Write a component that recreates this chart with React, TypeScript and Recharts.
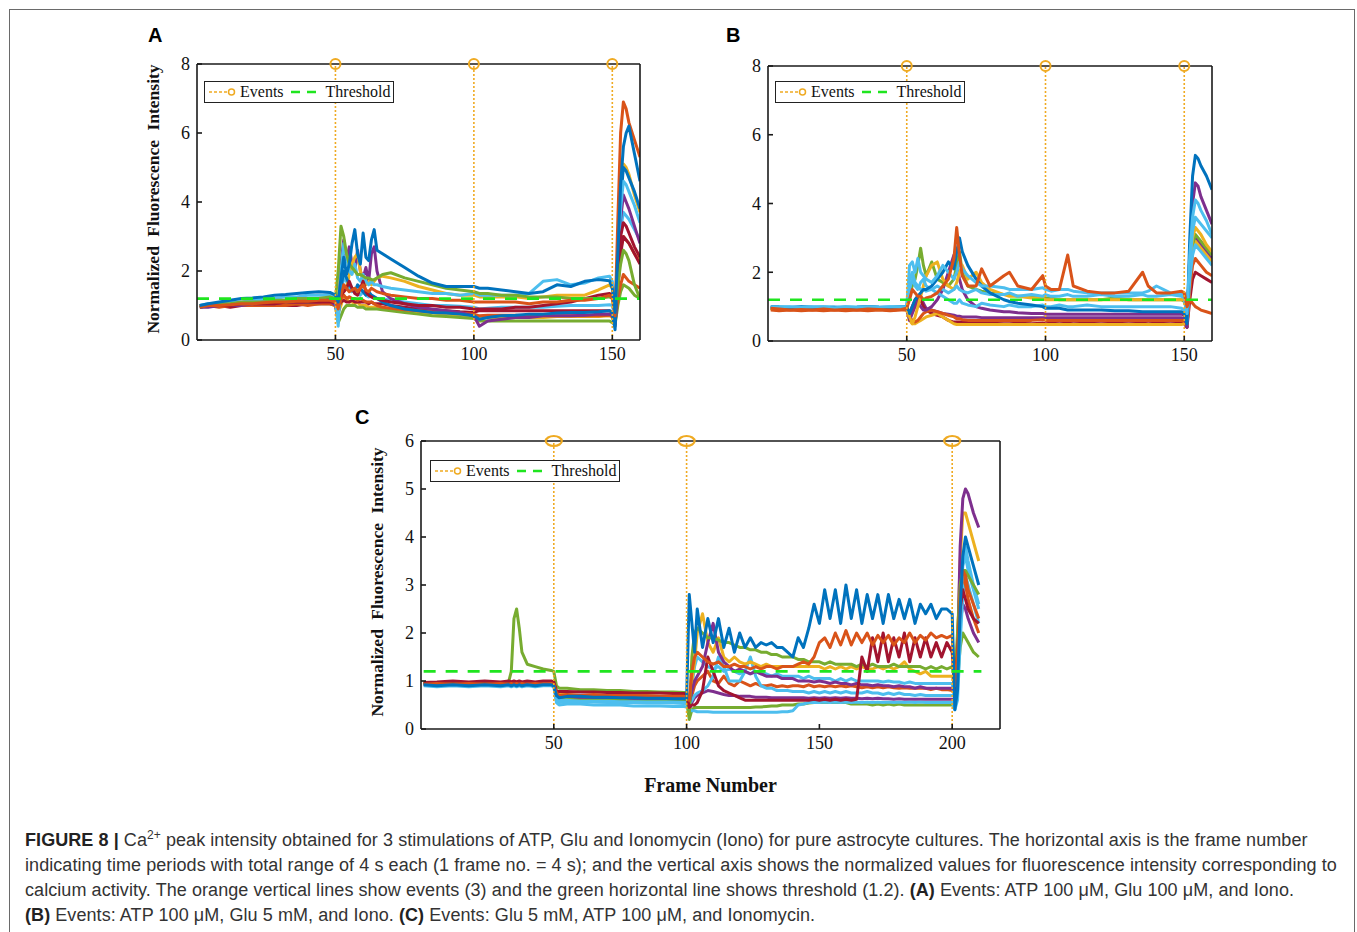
import React from 'react';
import { LineChart, Line, XAxis, YAxis, ReferenceLine, ReferenceDot, Legend } from 'recharts';

// ---------- data (frame number -> normalized intensity) ----------

const framesA = [
  1, 4, 8, 12, 16, 20, 24, 28, 32, 36, 40, 44, 48,
  50, 51, 52, 53, 54, 55, 56, 57, 58, 59, 60, 61, 62, 63, 64, 65,
  67, 70, 75, 80, 85, 90, 95,
  100, 102, 105, 110, 115, 120, 125, 130, 135, 140, 145, 149,
  150, 151, 152, 153, 154, 155, 156, 158, 160,
];

const a1 = [
  0.95, 1.0, 1.0, 0.95, 1.0, 1.0, 1.0, 1.0, 1.0, 1.0, 1.05, 1.05, 1.05,
  1.05, 0.95, 1.1, 1.15, 1.1, 1.1, 1.15, 1.1, 1.1, 1.1, 1.1, 1.1, 1.05, 1.1, 1.05, 1.05,
  1.05, 1.0, 0.95, 0.9, 0.88, 0.85, 0.82,
  0.8, 0.85, 0.85, 0.85, 0.85, 0.85, 0.85, 0.85, 0.85, 0.85, 0.85, 0.85,
  0.8, 0.5, 1.5, 2.5, 3.0, 2.9, 2.8, 2.5, 2.2,
];
const a2 = [
  1.0, 1.0, 1.0, 1.0, 1.0, 1.0, 1.0, 1.05, 1.05, 1.05, 1.05, 1.05, 1.05,
  1.0, 0.5, 0.7, 0.9, 1.0, 1.0, 1.0, 1.0, 0.95, 0.95, 0.95, 0.9, 0.9, 0.9, 0.9, 0.9,
  0.88, 0.85, 0.8, 0.75, 0.7, 0.68, 0.65,
  0.62, 0.55, 0.55, 0.55, 0.55, 0.55, 0.55, 0.55, 0.55, 0.55, 0.55, 0.55,
  0.5, 0.45, 1.0, 1.4, 1.6, 1.55, 1.5, 1.3, 1.2,
];
const a3 = [
  1.0, 1.0, 0.95, 1.0, 1.0, 1.0, 1.0, 1.0, 1.0, 1.05, 1.0, 1.05, 1.05,
  1.0, 0.8, 1.2, 1.3, 1.2, 1.25, 1.2, 1.2, 1.15, 1.2, 1.15, 1.1, 1.1, 1.1, 1.05, 1.0,
  0.95, 0.92, 0.88, 0.85, 0.82, 0.8, 0.78,
  0.75, 0.7, 0.72, 0.72, 0.72, 0.7, 0.7, 0.7, 0.7, 0.7, 0.7, 0.72,
  0.7, 0.5, 1.2, 1.6, 1.9, 1.8, 1.7, 1.6, 1.5,
];
const a4 = [
  0.95, 0.95, 1.0, 1.0, 1.0, 1.05, 1.05, 1.05, 1.1, 1.1, 1.1, 1.1, 1.15,
  1.0, 0.6, 2.2, 2.9, 2.3, 2.7, 2.2, 2.0, 2.6, 2.0, 1.8, 2.1, 1.7, 2.5, 2.7, 2.0,
  1.4, 1.2, 1.05, 0.95, 0.9, 0.85, 0.8,
  0.7, 0.4, 0.55, 0.6, 0.65, 0.65, 0.7, 0.7, 0.7, 0.72, 0.75, 0.75,
  0.7, 0.4, 1.8, 3.5, 4.2, 4.0, 3.8, 3.3, 2.8,
];
const a5 = [
  1.0, 1.0, 1.0, 1.05, 1.05, 1.05, 1.1, 1.1, 1.1, 1.15, 1.15, 1.2, 1.2,
  1.2, 1.3, 1.6, 1.4, 1.5, 1.9, 2.2, 2.4, 2.5, 2.0, 1.7, 1.6, 1.7, 1.6, 1.7, 1.8,
  1.85, 1.8, 1.7, 1.55, 1.45, 1.35, 1.3,
  1.3, 1.25, 1.25, 1.25, 1.25, 1.2, 1.25, 1.3, 1.3, 1.3, 1.45, 1.6,
  1.5, 1.0, 2.5, 4.3, 5.1, 5.0, 4.8, 4.2, 3.7,
];
const a6 = [
  0.95, 1.0, 1.0, 1.05, 1.05, 1.1, 1.1, 1.1, 1.15, 1.15, 1.15, 1.2, 1.2,
  1.1, 0.7, 1.5, 2.0, 1.8, 1.6, 1.5, 1.4, 1.6, 1.5, 1.4, 1.3, 1.4, 1.3, 1.25, 1.2,
  1.1, 1.0, 0.9, 0.85, 0.8, 0.78, 0.75,
  0.7, 0.6, 0.65, 0.7, 0.72, 0.75, 0.75, 0.78, 0.8, 0.8, 0.82, 0.85,
  0.8, 0.3, 2.2, 4.0, 5.0, 4.9, 4.7, 4.3, 3.8,
];
const a7 = [
  1.0, 1.05, 1.05, 1.1, 1.1, 1.15, 1.2, 1.2, 1.25, 1.25, 1.3, 1.3, 1.3,
  1.2, 0.4, 2.0, 2.8, 2.4, 2.0, 1.9, 2.2, 1.8, 1.7, 1.9, 1.7, 1.6, 1.7, 1.6, 1.6,
  1.55, 1.5, 1.45, 1.4, 1.35, 1.35, 1.3,
  1.35, 1.3, 1.3, 1.3, 1.3, 1.35, 1.7, 1.75, 1.6, 1.65, 1.8, 1.85,
  1.7, 0.9, 2.3, 3.8, 4.6, 4.5, 4.3, 3.9, 3.4,
];
const a8 = [
  1.0, 1.0, 1.0, 1.0, 1.05, 1.05, 1.05, 1.05, 1.1, 1.1, 1.1, 1.1, 1.1,
  1.1, 1.0, 1.3, 1.4, 1.5, 1.7, 1.5, 1.35, 1.3, 1.5, 1.7, 1.4, 1.3, 1.25, 1.2, 1.2,
  1.15, 1.1, 1.05, 1.0, 1.0, 0.95, 0.95,
  0.9, 0.9, 0.9, 0.9, 0.95, 0.95, 1.0, 1.05, 1.1, 1.2, 1.3, 1.35,
  1.3, 0.8, 2.0, 3.0, 3.4, 3.3, 3.1, 2.7, 2.4,
];
const a9 = [
  1.0, 1.0, 1.05, 1.05, 1.1, 1.1, 1.1, 1.15, 1.15, 1.2, 1.2, 1.2, 1.25,
  1.2, 2.0, 3.3, 3.0, 2.5, 2.2, 2.1, 2.0, 1.9, 1.9, 1.85, 1.8, 1.8, 1.75, 1.75, 1.8,
  1.9, 1.95, 1.8, 1.7, 1.6, 1.5, 1.45,
  1.4, 1.35, 1.35, 1.3, 1.3, 1.25, 1.25, 1.25, 1.2, 1.2, 1.2, 1.25,
  1.2, 0.9, 1.6, 2.2, 2.6, 2.5, 2.3, 1.6, 1.2,
];
const a10 = [
  0.95, 1.0, 1.0, 1.02, 1.05, 1.05, 1.08, 1.1, 1.1, 1.12, 1.12, 1.15, 1.15,
  1.1, 0.9, 1.3, 1.6, 1.5, 1.4, 1.45, 1.5, 1.4, 1.5, 1.6, 1.45, 1.4, 1.5, 1.45, 1.4,
  1.35, 1.3, 1.25, 1.2, 1.2, 1.15, 1.15,
  1.1, 1.1, 1.1, 1.1, 1.1, 1.05, 1.1, 1.1, 1.15, 1.15, 1.2, 1.3,
  1.2, 0.7, 3.5, 6.0, 6.9, 6.7, 6.3, 5.8, 5.3,
];
const a11 = [
  1.0, 1.05, 1.1, 1.15, 1.2, 1.22, 1.25, 1.3, 1.32, 1.35, 1.38, 1.4, 1.38,
  1.3, 1.1, 1.8, 2.4, 1.9, 2.2, 2.8, 3.2, 2.5, 2.2, 3.1, 2.4, 2.3, 2.9, 3.2, 2.6,
  2.5, 2.35, 2.1, 1.85, 1.65, 1.55, 1.55,
  1.55, 1.5, 1.5, 1.45, 1.4, 1.35, 1.4, 1.6, 1.55, 1.7, 1.75, 1.72,
  1.5, 0.8, 2.5, 4.5, 5.6, 6.0, 6.2, 5.4, 4.6,
];
const a12 = [
  1.0, 1.0, 1.02, 1.05, 1.05, 1.08, 1.1, 1.1, 1.12, 1.12, 1.15, 1.15, 1.18,
  1.15, 0.9, 1.4, 1.8, 1.7, 1.5, 1.4, 1.5, 1.35, 1.3, 1.4, 1.3, 1.25, 1.3, 1.25, 1.2,
  1.2, 1.15, 1.1, 1.05, 1.0, 1.0, 0.98,
  0.95, 0.9, 0.92, 0.95, 0.95, 0.95, 0.95, 0.98, 1.0, 1.0, 1.0, 1.02,
  1.0, 0.6, 2.0, 3.2, 3.7, 3.6, 3.5, 3.2, 2.9,
];
const a13 = [
  0.98, 1.0, 0.98, 1.0, 1.0, 1.0, 1.02, 1.02, 1.02, 1.05, 1.05, 1.05, 1.08,
  1.05, 0.8, 1.0, 1.3, 1.2, 1.1, 1.1, 1.05, 1.1, 1.0, 1.0, 1.0, 0.95, 0.95, 0.95, 0.92,
  0.9, 0.88, 0.85, 0.8, 0.78, 0.75, 0.72,
  0.7, 0.65, 0.65, 0.65, 0.65, 0.65, 0.65, 0.68, 0.68, 0.68, 0.68, 0.7,
  0.65, 0.45, 1.5, 2.6, 3.0, 2.9, 2.8, 2.5, 2.3,
];

const framesB = [
  1, 4, 8, 12, 16, 20, 24, 28, 32, 36, 40, 44, 48,
  50, 51, 52, 53, 54, 55, 56, 57,
  59, 61, 63, 65, 67, 68, 69, 70, 72, 75, 77, 80,
  85, 87, 90, 95, 99, 100, 102, 105, 108, 110,
  115, 120, 125, 130, 135, 137, 140, 145, 149,
  150, 151, 152, 153, 154, 155, 156, 158, 160,
];

const b1 = [
  0.95, 0.93, 0.95, 0.93, 0.95, 0.93, 0.95, 0.92, 0.95, 0.93, 0.95, 0.93, 0.95,
  0.95, 0.8, 1.0, 1.2, 1.3, 1.2, 1.0, 0.9,
  0.8, 0.75, 0.7, 0.6, 0.55, 0.55, 0.55, 0.55, 0.55, 0.52, 0.52, 0.52,
  0.5, 0.5, 0.52, 0.5, 0.52, 0.5, 0.52, 0.5, 0.52, 0.5,
  0.52, 0.5, 0.52, 0.5, 0.52, 0.5, 0.52, 0.5, 0.52,
  0.5, 0.4, 1.2, 1.8, 2.0, 1.95, 1.9, 1.8, 1.7,
];
const b2 = [
  0.92, 0.9, 0.92, 0.9, 0.92, 0.9, 0.92, 0.9, 0.92, 0.9, 0.92, 0.9, 0.92,
  0.9, 0.6, 0.5, 0.5, 0.55, 0.6, 0.65, 0.7,
  0.75, 0.8, 0.7, 0.6, 0.5, 0.48, 0.48, 0.48, 0.48, 0.48, 0.48, 0.48,
  0.48, 0.48, 0.48, 0.48, 0.48, 0.48, 0.48, 0.48, 0.48, 0.48,
  0.48, 0.48, 0.48, 0.48, 0.48, 0.48, 0.48, 0.48, 0.48,
  0.5, 0.45, 1.6, 2.6, 2.9, 2.8, 2.7, 2.5, 2.3,
];
const b3 = [
  0.9, 0.88, 0.9, 0.88, 0.9, 0.88, 0.9, 0.88, 0.9, 0.88, 0.9, 0.88, 0.9,
  0.9, 0.7, 0.6, 0.55, 0.6, 0.7, 0.8, 0.85,
  0.9, 0.85, 0.8, 0.75, 0.7, 0.65, 0.65, 0.62, 0.6, 0.6, 0.6, 0.6,
  0.6, 0.6, 0.6, 0.6, 0.62, 0.6, 0.6, 0.6, 0.6, 0.6,
  0.6, 0.6, 0.6, 0.6, 0.6, 0.6, 0.6, 0.6, 0.6,
  0.6, 0.5, 1.5, 2.2, 2.4, 2.3, 2.2, 2.0, 1.9,
];
const b4 = [
  0.95, 0.97, 0.95, 0.97, 0.95, 0.96, 0.95, 0.97, 0.95, 0.96, 0.95, 0.97, 0.95,
  0.95, 0.6, 0.8, 1.0, 1.1, 1.0, 0.9, 0.9,
  1.0, 1.2, 1.5, 2.0, 2.5, 2.2, 1.8, 1.5, 1.2, 1.0, 0.95, 0.9,
  0.85, 0.85, 0.82, 0.8, 0.8, 0.78, 0.78, 0.78, 0.78, 0.78,
  0.78, 0.78, 0.78, 0.78, 0.78, 0.78, 0.78, 0.78, 0.78,
  0.75, 0.4, 2.5, 4.0, 4.6, 4.5, 4.2, 3.8, 3.4,
];
const b5 = [
  0.95, 0.95, 0.97, 0.95, 0.96, 0.95, 0.97, 0.95, 0.95, 0.97, 0.96, 0.95, 0.97,
  1.0, 1.4, 1.6, 1.8, 2.2, 2.7, 2.2, 1.9,
  2.3, 1.8, 1.7, 1.6, 1.8, 2.2, 2.6, 2.0, 1.6, 1.5, 1.45, 1.4,
  1.35, 1.35, 1.3, 1.3, 1.25, 1.25, 1.25, 1.2, 1.2, 1.2,
  1.2, 1.2, 1.25, 1.2, 1.2, 1.2, 1.2, 1.2, 1.2,
  1.15, 0.9, 2.0, 2.8, 3.1, 3.0, 2.9, 2.7, 2.5,
];
const b6 = [
  0.95, 0.95, 0.93, 0.95, 0.93, 0.95, 0.93, 0.95, 0.93, 0.95, 0.93, 0.95, 0.95,
  0.95, 0.7, 0.5, 0.7, 1.0, 1.3, 1.6, 1.9,
  2.2, 2.3, 1.8, 1.6, 1.5, 1.7, 2.0, 2.2, 1.8, 2.0, 1.7, 1.5,
  1.35, 1.3, 1.3, 1.25, 1.25, 1.2, 1.2, 1.2, 1.2, 1.2,
  1.2, 1.2, 1.2, 1.2, 1.2, 1.2, 1.2, 1.2, 1.2,
  1.2, 0.9, 2.2, 3.0, 3.3, 3.2, 3.1, 2.8, 2.6,
];
const b7 = [
  1.0, 1.0, 0.98, 1.0, 0.98, 1.0, 0.98, 1.0, 0.98, 1.0, 0.98, 1.0, 1.0,
  1.0, 1.5, 1.8, 1.6, 1.5, 1.7, 1.8, 1.6,
  1.5, 1.4, 1.3, 1.2, 1.1, 1.1, 1.2, 1.1, 1.05, 1.0, 1.1, 1.05,
  1.0, 1.05, 1.0, 1.0, 1.05, 1.0, 1.0, 1.05, 1.0, 1.0,
  1.05, 1.0, 1.0, 1.0, 1.0, 1.0, 1.0, 1.0, 0.95,
  0.9, 0.6, 1.8, 2.5, 2.8, 2.7, 2.6, 2.4, 2.2,
];
const b8 = [
  1.0, 0.98, 0.97, 1.0, 0.98, 0.97, 0.98, 0.97, 0.98, 1.0, 0.98, 0.97, 1.0,
  1.0, 0.8, 1.0, 1.2, 1.3, 1.4, 1.5, 1.5,
  1.6, 1.8, 2.0, 2.3, 2.1, 2.6, 3.0, 2.6, 2.2, 1.8, 1.6, 1.4,
  1.2, 1.15, 1.1, 1.05, 1.0, 0.95, 0.95, 0.95, 0.9, 0.9,
  0.9, 0.9, 0.88, 0.88, 0.85, 0.85, 0.85, 0.85, 0.85,
  0.8, 0.5, 3.0, 4.8, 5.4, 5.3, 5.1, 4.8, 4.4,
];
const b9 = [
  1.0, 0.98, 1.0, 0.98, 1.0, 0.98, 0.97, 1.0, 0.98, 1.0, 0.98, 1.0, 1.0,
  1.0, 2.2, 2.3, 2.0, 2.4, 2.0, 1.9, 1.8,
  1.7, 1.9, 2.2, 2.0, 1.8, 2.0, 2.3, 2.1, 1.9, 1.7, 1.6, 1.6,
  1.55, 1.5, 1.5, 1.5, 1.55, 1.5, 1.45, 1.5, 1.5, 1.45,
  1.4, 1.4, 1.4, 1.4, 1.4, 1.45, 1.6, 1.4, 1.35,
  1.3, 0.8, 2.5, 3.6, 4.1, 4.0, 3.8, 3.5, 3.1,
];
const b10 = [
  0.95, 0.93, 0.9, 0.92, 0.9, 0.93, 0.9, 0.92, 0.9, 0.93, 0.92, 0.9, 0.92,
  0.95, 1.2, 1.5, 1.4, 1.3, 1.3, 1.2, 1.25,
  1.3, 1.4, 1.6, 1.8, 2.4, 3.3, 2.5, 1.9, 1.6, 1.6, 2.1, 1.6,
  1.9, 2.0, 1.6, 1.5, 1.9, 1.6, 1.5, 1.5, 2.5, 1.6,
  1.45, 1.4, 1.4, 1.45, 2.0, 1.6, 1.4, 1.4, 1.45,
  1.4, 1.0, 1.2, 1.1, 1.0, 0.95, 0.9, 0.85, 0.8,
];
const b11 = [
  0.98, 1.0, 0.98, 0.97, 0.98, 1.0, 0.98, 0.97, 0.98, 1.0, 0.98, 0.97, 0.98,
  1.0, 1.8, 2.0, 1.7, 1.6, 1.5, 1.5, 1.45,
  1.5, 1.6, 1.5, 1.4, 1.5, 1.6, 1.5, 1.45, 1.4, 1.5, 1.4, 1.35,
  1.35, 1.4, 1.3, 1.35, 1.3, 1.35, 1.3, 1.3, 1.35, 1.3,
  1.3, 1.35, 1.3, 1.3, 1.35, 1.3, 1.3, 1.35, 1.3,
  1.25, 0.7, 2.2, 3.2, 3.6, 3.5, 3.4, 3.2, 3.0,
];
const b12 = [
  0.97, 0.95, 0.97, 0.95, 0.97, 0.95, 0.97, 0.95, 0.97, 0.95, 0.97, 0.95, 0.97,
  0.95, 0.7, 0.9, 1.1, 1.2, 1.3, 1.1, 0.95,
  0.9, 0.85, 0.8, 0.78, 0.75, 0.72, 0.72, 0.7, 0.7, 0.7, 0.68, 0.68,
  0.68, 0.68, 0.68, 0.68, 0.68, 0.68, 0.68, 0.68, 0.68, 0.68,
  0.68, 0.68, 0.68, 0.68, 0.68, 0.68, 0.68, 0.68, 0.68,
  0.65, 0.4, 1.8, 2.6, 3.0, 2.9, 2.8, 2.6, 2.4,
];

const framesC = [
  1, 6, 12, 18, 24, 30, 33, 34, 35, 36, 37, 38, 40, 43, 46, 49, 50,
  51, 52, 55, 60, 65, 70, 75, 80, 85, 90, 95, 99, 100,
  101, 102, 103, 104, 106, 108, 110, 112, 114, 116, 118, 120, 122, 124, 126, 128, 130, 132, 134, 136, 138, 140,
  142, 144, 146, 148, 150, 152, 154, 156, 158, 160, 162, 164, 166, 168, 170,
  172, 174, 176, 178, 180, 182, 184, 186, 188, 190, 192, 194, 196, 198, 200,
  201, 202, 203, 204, 205, 206, 208, 210,
];

const c1 = [
  0.97, 0.95, 0.97, 0.95, 0.97, 0.95, 0.97, 0.95, 0.97, 0.95, 0.97, 0.95, 0.97, 0.95, 0.97, 0.97, 0.95,
  0.62, 0.6, 0.62, 0.6, 0.6, 0.6, 0.6, 0.58, 0.58, 0.58, 0.58, 0.58, 0.58,
  0.2, 0.4, 0.45, 0.45, 0.45, 0.45, 0.45, 0.45, 0.45, 0.45, 0.45, 0.45, 0.45, 0.45, 0.46, 0.46, 0.47, 0.48, 0.48, 0.5, 0.5, 0.5,
  0.52, 0.52, 0.54, 0.55, 0.55, 0.55, 0.55, 0.55, 0.55, 0.55, 0.52, 0.52, 0.52, 0.52, 0.5,
  0.52, 0.5, 0.52, 0.5, 0.52, 0.5, 0.5, 0.5, 0.5, 0.5, 0.5, 0.5, 0.5, 0.5, 0.5,
  0.5, 1.0, 1.7, 2.0, 1.9, 1.8, 1.6, 1.5,
];
const c2 = [
  0.9, 0.88, 0.9, 0.88, 0.9, 0.88, 0.9, 0.88, 0.9, 0.88, 0.9, 0.88, 0.9, 0.88, 0.9, 0.9, 0.88,
  0.55, 0.5, 0.52, 0.52, 0.5, 0.5, 0.5, 0.48, 0.48, 0.48, 0.47, 0.47, 0.46,
  0.4, 0.38, 0.38, 0.36, 0.36, 0.36, 0.35, 0.35, 0.35, 0.35, 0.35, 0.35, 0.35, 0.35, 0.35, 0.35, 0.35, 0.35, 0.35, 0.36, 0.36, 0.38,
  0.5, 0.52, 0.55, 0.55, 0.55, 0.56, 0.55, 0.56, 0.55, 0.56, 0.55, 0.56, 0.55, 0.56, 0.55,
  0.56, 0.55, 0.56, 0.55, 0.56, 0.55, 0.56, 0.55, 0.56, 0.55, 0.55, 0.55, 0.55, 0.55, 0.55,
  0.4, 0.6, 1.8, 2.8, 3.2, 3.0, 2.6, 2.2,
];
const c3 = [
  0.95, 0.97, 0.95, 0.97, 0.95, 0.97, 0.95, 0.97, 0.95, 0.97, 0.95, 0.97, 0.95, 0.97, 0.95, 0.97, 0.95,
  0.72, 0.7, 0.7, 0.68, 0.68, 0.68, 0.67, 0.67, 0.66, 0.66, 0.66, 0.66, 0.65,
  0.5, 0.7, 0.9, 1.0, 1.1, 1.2, 1.0, 0.95, 1.1, 0.95, 0.9, 1.0, 0.95, 0.9, 0.95, 0.9, 0.9, 0.92, 0.88, 0.9, 0.88, 0.9,
  0.9, 0.88, 0.92, 0.88, 0.9, 0.88, 0.9, 0.88, 0.9, 0.88, 0.9, 0.88, 0.86, 0.88, 0.86,
  0.88, 0.86, 0.88, 0.86, 0.85, 0.86, 0.85, 0.85, 0.85, 0.85, 0.82, 0.85, 0.82, 0.82, 0.8,
  0.8, 1.6, 2.8, 3.2, 3.0, 2.7, 2.3, 2.0,
];
const c4 = [
  0.95, 0.93, 0.95, 0.93, 0.95, 0.93, 0.95, 0.93, 0.95, 0.93, 0.95, 0.93, 0.95, 0.93, 0.95, 0.95, 0.93,
  0.62, 0.6, 0.6, 0.58, 0.58, 0.58, 0.57, 0.57, 0.56, 0.56, 0.56, 0.55, 0.55,
  0.5, 0.6, 0.7, 0.75, 0.8, 0.9, 1.1, 1.5, 1.3, 1.0, 1.0, 1.0, 1.2, 1.5, 1.1, 0.9, 0.85, 0.85, 0.8, 0.8, 0.8, 0.78,
  0.78, 0.78, 0.75, 0.78, 0.75, 0.78, 0.75, 0.78, 0.75, 0.78, 0.75, 0.75, 0.75, 0.78, 0.75,
  0.75, 0.72, 0.75, 0.72, 0.75, 0.72, 0.72, 0.7, 0.72, 0.7, 0.7, 0.7, 0.7, 0.7, 0.7,
  0.7, 1.2, 2.5, 3.5, 3.8, 3.5, 3.0, 2.6,
];
const c5 = [
  0.95, 0.97, 0.95, 0.97, 0.95, 0.97, 0.95, 0.97, 0.95, 0.97, 0.95, 0.97, 0.95, 0.97, 0.95, 0.97, 0.95,
  0.75, 0.72, 0.72, 0.7, 0.7, 0.7, 0.7, 0.7, 0.7, 0.68, 0.68, 0.68, 0.68,
  0.6, 1.0, 1.4, 2.0, 2.4, 1.8, 1.6, 1.9, 1.5, 1.4, 1.5, 1.4, 1.35, 1.4, 1.35, 1.3, 1.35, 1.3, 1.3, 1.3, 1.3, 1.3,
  1.3, 1.3, 1.3, 1.3, 1.3, 1.25, 1.3, 1.25, 1.3, 1.25, 1.3, 1.25, 1.3, 1.25, 1.25,
  1.3, 1.25, 1.3, 1.25, 1.3, 1.4, 1.25, 1.2, 1.15, 1.2, 1.1, 1.1, 1.1, 1.1, 1.1,
  0.9, 1.8, 3.5, 4.5, 4.5, 4.3, 3.9, 3.5,
];
const c6 = [
  0.93, 0.95, 0.93, 0.95, 0.93, 0.95, 0.93, 0.95, 0.93, 0.95, 0.93, 0.95, 0.93, 0.95, 0.93, 0.95, 0.93,
  0.7, 0.68, 0.68, 0.67, 0.67, 0.66, 0.66, 0.65, 0.65, 0.65, 0.64, 0.64, 0.63,
  0.5, 0.8, 1.0, 1.1, 1.3, 1.8, 2.2, 1.6, 1.4, 1.3, 1.2, 1.25, 1.2, 1.15, 1.2, 1.15, 1.1, 1.1, 1.1, 1.05, 1.05, 1.05,
  1.0, 1.0, 1.0, 0.98, 1.0, 0.98, 0.95, 0.98, 0.95, 0.95, 0.92, 0.95, 0.92, 0.92, 0.9,
  0.92, 0.9, 0.9, 0.88, 0.9, 0.88, 0.88, 0.85, 0.88, 0.85, 0.85, 0.85, 0.85, 0.85, 0.85,
  0.8, 1.5, 3.8, 4.8, 5.0, 4.9, 4.5, 4.2,
];
const c7 = [
  0.95, 0.95, 0.97, 0.95, 0.97, 0.96, 0.98, 1.2, 2.3, 2.5, 2.1, 1.6, 1.35, 1.3, 1.25, 1.22, 1.2,
  0.9, 0.85, 0.85, 0.82, 0.82, 0.8, 0.8, 0.78, 0.78, 0.77, 0.77, 0.76, 0.75,
  0.3, 1.5, 2.0, 2.1, 2.0, 1.9, 1.9, 1.85, 1.8, 1.8, 1.75, 1.7, 1.7, 1.65, 1.65, 1.6, 1.6, 1.55, 1.55, 1.5, 1.5, 1.5,
  1.45, 1.45, 1.4, 1.4, 1.4, 1.35, 1.4, 1.35, 1.35, 1.35, 1.35, 1.3, 1.35, 1.3, 1.35,
  1.3, 1.3, 1.3, 1.35, 1.3, 1.3, 1.3, 1.3, 1.3, 1.25, 1.3, 1.25, 1.3, 1.25, 1.3,
  1.0, 2.0, 3.0, 3.3, 3.3, 3.2, 3.0, 2.8,
];
const c8 = [
  0.97, 0.98, 1.0, 0.98, 1.0, 0.98, 1.0, 0.98, 1.0, 0.98, 1.0, 0.98, 1.0, 0.98, 1.0, 1.0, 0.98,
  0.8, 0.78, 0.78, 0.77, 0.77, 0.76, 0.76, 0.75, 0.75, 0.75, 0.74, 0.74, 0.73,
  0.45, 0.5, 0.5, 0.55, 0.8, 1.5, 1.2, 0.9, 0.8, 0.75, 0.7, 0.65, 0.6, 0.6, 0.6, 0.6, 0.6, 0.6, 0.6, 0.6, 0.6, 0.6,
  0.6, 0.6, 0.6, 0.62, 0.6, 0.62, 0.6, 0.62, 0.6, 0.62, 0.6, 0.62, 1.5, 1.2, 1.9,
  1.4, 2.0, 1.4, 1.9, 1.5, 2.0, 1.4, 1.9, 1.5, 1.9, 1.5, 1.8, 1.5, 1.8, 1.6,
  0.8, 1.6, 2.5, 2.9, 2.7, 2.5, 2.3, 2.2,
];
const c9 = [
  0.93, 0.95, 0.93, 0.95, 0.93, 0.95, 0.93, 0.95, 0.93, 0.95, 0.93, 0.95, 0.93, 0.95, 0.93, 0.95, 0.93,
  0.75, 0.7, 0.72, 0.7, 0.72, 0.7, 0.7, 0.7, 0.68, 0.68, 0.68, 0.68, 0.67,
  0.6, 1.2, 1.5, 1.6, 1.5, 1.4, 1.35, 1.4, 1.3, 1.3, 1.35, 1.3, 1.3, 1.25, 1.3, 1.25, 1.3, 1.3, 1.25, 1.3, 1.3, 1.3,
  1.35, 1.4, 1.35, 1.5, 1.8, 1.9, 1.7, 2.0, 1.75, 2.05, 1.75, 2.0, 1.8, 2.0, 1.75,
  1.95, 1.8, 1.95, 1.75, 1.9, 1.8, 2.0, 1.8, 1.95, 1.85, 2.0, 1.9, 1.95, 1.9, 1.95,
  0.9, 1.5, 2.8, 3.3, 3.2, 2.9, 2.6, 2.3,
];
const c10 = [
  0.92, 0.9, 0.92, 0.9, 0.92, 0.9, 0.92, 0.9, 0.92, 0.9, 0.92, 0.9, 0.92, 0.9, 0.92, 0.92, 0.9,
  0.7, 0.65, 0.68, 0.68, 0.66, 0.66, 0.65, 0.65, 0.64, 0.64, 0.63, 0.63, 0.62,
  2.8, 2.2, 1.6, 2.5, 1.7, 2.3, 1.8, 2.3, 1.7, 2.1, 1.6, 2.0, 1.7, 1.9, 1.7, 1.8, 1.75, 1.8, 1.7, 1.7, 1.6, 1.5,
  1.9, 1.7, 2.1, 2.6, 2.2, 2.9, 2.3, 2.9, 2.2, 3.0, 2.3, 2.9, 2.2, 2.8, 2.3,
  2.8, 2.2, 2.8, 2.3, 2.7, 2.3, 2.7, 2.2, 2.6, 2.4, 2.6, 2.3, 2.5, 2.5, 2.4,
  0.4, 0.8, 2.5, 3.6, 4.0, 3.8, 3.4, 3.0,
];
const c11 = [
  0.93, 0.92, 0.93, 0.92, 0.93, 0.92, 0.93, 0.92, 0.93, 0.92, 0.93, 0.92, 0.93, 0.92, 0.93, 0.93, 0.92,
  0.6, 0.55, 0.57, 0.56, 0.56, 0.55, 0.55, 0.55, 0.54, 0.54, 0.54, 0.53, 0.53,
  0.5, 0.9, 1.3, 1.5, 1.4, 1.3, 1.25, 1.3, 1.2, 1.25, 1.2, 1.15, 1.2, 1.15, 1.2, 1.15, 1.15, 1.1, 1.15, 1.1, 1.1, 1.1,
  1.1, 1.05, 1.1, 1.05, 1.05, 1.05, 1.05, 1.0, 1.05, 1.0, 1.05, 1.0, 1.0, 1.0, 1.0,
  1.0, 0.98, 1.0, 0.98, 0.98, 0.95, 0.98, 0.95, 0.95, 0.95, 0.95, 0.95, 0.95, 0.95, 0.95,
  0.6, 1.2, 2.6, 3.4, 3.6, 3.3, 2.9, 2.5,
];
const c12 = [
  0.96, 0.94, 0.96, 0.94, 0.96, 0.94, 0.96, 0.94, 0.96, 0.94, 0.96, 0.94, 0.96, 0.94, 0.96, 0.96, 0.94,
  0.68, 0.65, 0.65, 0.64, 0.64, 0.63, 0.63, 0.62, 0.62, 0.62, 0.61, 0.61, 0.6,
  0.4, 0.55, 0.65, 0.7, 0.75, 0.8, 0.78, 0.75, 0.72, 0.7, 0.7, 0.68, 0.68, 0.68, 0.66, 0.66, 0.66, 0.65, 0.65, 0.65, 0.65, 0.65,
  0.65, 0.65, 0.64, 0.65, 0.64, 0.65, 0.64, 0.65, 0.64, 0.65, 0.64, 0.64, 0.63, 0.64, 0.63,
  0.64, 0.63, 0.63, 0.62, 0.63, 0.62, 0.62, 0.62, 0.62, 0.62, 0.62, 0.62, 0.62, 0.62, 0.62,
  0.6, 1.3, 2.2, 2.6, 2.5, 2.3, 2.0, 1.8,
];

const ticksA = [50, 100, 150];
const ticksC = [50, 100, 150, 200];
const yTicks8 = [0, 2, 4, 6, 8];
const yTicks6 = [0, 1, 2, 3, 4, 5, 6];
const eventsA = [50, 100, 150];
const eventsC = [50, 100, 200];
const THRESHOLD = 1.2;

// ---------- styling ----------

const BLUE = '#0072BD';
const ORANGE = '#D95319';
const YELLOW = '#EDB120';
const PURPLE = '#7E2F8E';
const GREEN = '#77AC30';
const CYAN = '#4DBEEE';
const RED = '#A2142F';
const EVENT = '#EFAA22';
const THR = '#1FE51F';
const SERIF = '"Liberation Serif", "Times New Roman", serif';
const SANS = '"Liberation Sans", Arial, Helvetica, sans-serif';

type Trace = { key: string; color: string; v: number[] };

const tracesA: Trace[] = [
  { key: 'a12', color: CYAN, v: a12 },
  { key: 'a13', color: YELLOW, v: a13 },
  { key: 'a1', color: RED, v: a1 },
  { key: 'a2', color: GREEN, v: a2 },
  { key: 'a3', color: ORANGE, v: a3 },
  { key: 'a4', color: PURPLE, v: a4 },
  { key: 'a5', color: YELLOW, v: a5 },
  { key: 'a6', color: BLUE, v: a6 },
  { key: 'a7', color: CYAN, v: a7 },
  { key: 'a8', color: RED, v: a8 },
  { key: 'a9', color: GREEN, v: a9 },
  { key: 'a10', color: ORANGE, v: a10 },
  { key: 'a11', color: BLUE, v: a11 },
];
const tracesB: Trace[] = [
  { key: 'b12', color: PURPLE, v: b12 },
  { key: 'b1', color: RED, v: b1 },
  { key: 'b2', color: YELLOW, v: b2 },
  { key: 'b3', color: ORANGE, v: b3 },
  { key: 'b4', color: PURPLE, v: b4 },
  { key: 'b5', color: GREEN, v: b5 },
  { key: 'b6', color: YELLOW, v: b6 },
  { key: 'b11', color: CYAN, v: b11 },
  { key: 'b7', color: CYAN, v: b7 },
  { key: 'b8', color: BLUE, v: b8 },
  { key: 'b9', color: CYAN, v: b9 },
  { key: 'b10', color: ORANGE, v: b10 },
];
const tracesC: Trace[] = [
  { key: 'c12', color: PURPLE, v: c12 },
  { key: 'c1', color: GREEN, v: c1 },
  { key: 'c2', color: CYAN, v: c2 },
  { key: 'c3', color: ORANGE, v: c3 },
  { key: 'c11', color: CYAN, v: c11 },
  { key: 'c4', color: CYAN, v: c4 },
  { key: 'c5', color: YELLOW, v: c5 },
  { key: 'c6', color: PURPLE, v: c6 },
  { key: 'c7', color: GREEN, v: c7 },
  { key: 'c8', color: RED, v: c8 },
  { key: 'c9', color: ORANGE, v: c9 },
  { key: 'c10', color: BLUE, v: c10 },
];

function buildRows(frames: number[], traces: Trace[]) {
  return frames.map((f, i) => {
    const row: Record<string, number> = { f };
    traces.forEach((t) => {
      row[t.key] = t.v[i];
    });
    return row;
  });
}

const LegendBox = () => (
  <div
    style={{
      display: 'flex',
      alignItems: 'center',
      height: 20,
      padding: '0 3px 0 2px',
      border: '1.5px solid #222',
      background: '#fff',
      fontFamily: SERIF,
      fontSize: 16,
      color: '#111',
      whiteSpace: 'nowrap',
      lineHeight: '20px',
    }}
  >
    <svg width={30} height={12}>
      <line x1={2} y1={6} x2={21} y2={6} stroke={EVENT} strokeWidth={1.5} strokeDasharray="3 2" />
      <circle cx={24.5} cy={6} r={3} fill="none" stroke={EVENT} strokeWidth={1.5} />
    </svg>
    <span style={{ marginLeft: 3 }}>Events</span>
    <svg width={34} height={12} style={{ marginLeft: 5 }}>
      <line x1={2} y1={6} x2={31} y2={6} stroke={THR} strokeWidth={2.5} strokeDasharray="9 7" />
    </svg>
    <span style={{ marginLeft: 3 }}>Threshold</span>
  </div>
);

type PanelProps = {
  frames: number[];
  traces: Trace[];
  xMax: number;
  yMax: number;
  xTicks: number[];
  yTicks: number[];
  events: number[];
  thrSpan?: [number, number];
  left: number;
  top: number;
  width: number;
  height: number;
  bottomH: number;
  yLabel?: string;
  xLabel?: string;
  legendX: number;
  legendY: number;
  oval?: boolean;
};

const axisStroke = { stroke: '#1a1a1a', strokeWidth: 1.6 };
const tickFont = { fill: '#111', fontSize: 18, fontFamily: SERIF };

function Panel(p: PanelProps) {
  const rows = buildRows(p.frames, p.traces);
  const yLab = p.yLabel
    ? (props: any) => {
        const vb = props.viewBox || { x: 0, y: 0, width: 0, height: 0 };
        const cx = vb.x + 23;
        const cy = vb.y + vb.height / 2 - 3;
        return (
          <text
            x={cx}
            y={cy}
            transform={`rotate(-90 ${cx} ${cy})`}
            textAnchor="middle"
            dominantBaseline="central"
            fontFamily={SERIF}
            fontWeight="bold"
            fontSize={17.5}
            wordSpacing={5}
            fill="#111"
          >
            {p.yLabel}
          </text>
        );
      }
    : undefined;
  const xLab = p.xLabel
    ? (props: any) => {
        const vb = props.viewBox || { x: 0, y: 0, width: 0, height: 0 };
        return (
          <text
            x={vb.x + vb.width / 2}
            y={vb.y + 63}
            textAnchor="middle"
            fontFamily={SERIF}
            fontWeight="bold"
            fontSize={20}
            fill="#111"
          >
            {p.xLabel}
          </text>
        );
      }
    : undefined;

  return (
    <div style={{ position: 'absolute', left: p.left, top: p.top }}>
      <LineChart width={p.width} height={p.height} data={rows} margin={{ top: 20, right: 5, bottom: 0, left: 0 }}>
        <XAxis
          dataKey="f"
          type="number"
          domain={[0, p.xMax]}
          ticks={p.xTicks}
          interval={0}
          allowDataOverflow
          height={p.bottomH}
          tickSize={-5}
          tickMargin={12}
          axisLine={axisStroke}
          tickLine={axisStroke}
          tick={tickFont}
          label={xLab}
        />
        <XAxis
          xAxisId="t"
          orientation="top"
          type="number"
          domain={[0, p.xMax]}
          ticks={p.xTicks}
          interval={0}
          allowDataOverflow
          height={4}
          tickSize={-5}
          axisLine={axisStroke}
          tickLine={axisStroke}
          tick={false}
        />
        <YAxis
          type="number"
          domain={[0, p.yMax]}
          ticks={p.yTicks}
          interval={0}
          allowDataOverflow
          width={67}
          tickSize={-5}
          tickMargin={12}
          axisLine={axisStroke}
          tickLine={axisStroke}
          tick={tickFont}
          label={yLab}
        />
        <YAxis
          yAxisId="r"
          orientation="right"
          type="number"
          domain={[0, p.yMax]}
          ticks={p.yTicks}
          interval={0}
          allowDataOverflow
          width={5}
          tickSize={-5}
          axisLine={axisStroke}
          tickLine={axisStroke}
          tick={false}
        />
        {p.traces.map((t) => (
          <Line
            key={t.key}
            dataKey={t.key}
            stroke={t.color}
            strokeWidth={3}
            strokeLinejoin="round"
            dot={false}
            activeDot={false}
            isAnimationActive={false}
          />
        ))}
        {p.events.map((e) => (
          <ReferenceLine key={'ev' + e} x={e} stroke={EVENT} strokeWidth={1.6} strokeDasharray="2 2" />
        ))}
        {p.thrSpan ? (
          <ReferenceLine
            segment={[
              { x: p.thrSpan[0], y: THRESHOLD },
              { x: p.thrSpan[1], y: THRESHOLD },
            ]}
            stroke={THR}
            strokeWidth={2.6}
            strokeDasharray="12 10"
          />
        ) : (
          <ReferenceLine y={THRESHOLD} stroke={THR} strokeWidth={2.6} strokeDasharray="12 10" />
        )}
        {p.events.map((e) => (
          <ReferenceDot
            key={'dot' + e}
            x={e}
            y={p.yMax}
            r={5}
            ifOverflow="visible"
            fill="none"
            stroke={EVENT}
            strokeWidth={2}
            shape={
              p.oval
                ? (s: any) => (
                    <ellipse cx={s.cx} cy={s.cy} rx={8} ry={5} fill="none" stroke={EVENT} strokeWidth={2.2} />
                  )
                : undefined
            }
          />
        ))}
        <Legend
          layout="vertical"
          verticalAlign="middle"
          align="center"
          wrapperStyle={{ left: p.legendX, top: p.legendY, width: 'auto', height: 'auto' }}
          content={() => <LegendBox />}
        />
      </LineChart>
    </div>
  );
}

const letterStyle: React.CSSProperties = {
  position: 'absolute',
  fontFamily: SANS,
  fontWeight: 'bold',
  fontSize: 20,
  lineHeight: '20px',
  color: '#000',
};

const captionLine: React.CSSProperties = { whiteSpace: 'nowrap' };

export default function App() {
  return (
    <div style={{ position: 'absolute', left: 0, top: 0, width: 1357, height: 932, background: '#fff', overflow: 'hidden' }}>
      <div
        style={{
          position: 'absolute',
          left: 9,
          top: 9,
          width: 1344,
          height: 960,
          border: '1.5px solid #6a6a6a',
        }}
      />
      <div style={{ ...letterStyle, left: 148, top: 25 }}>A</div>
      <div style={{ ...letterStyle, left: 726, top: 25 }}>B</div>
      <div style={{ ...letterStyle, left: 355, top: 407 }}>C</div>

      <Panel
        frames={framesA}
        traces={tracesA}
        xMax={160}
        yMax={8}
        xTicks={ticksA}
        yTicks={yTicks8}
        events={eventsA}
        left={130}
        top={40}
        width={520}
        height={340}
        bottomH={40}
        yLabel="Normalized Fluorescence Intensity"
        legendX={74}
        legendY={41}
      />
      <Panel
        frames={framesB}
        traces={tracesB}
        xMax={160}
        yMax={8}
        xTicks={ticksA}
        yTicks={yTicks8}
        events={eventsA}
        left={701}
        top={42}
        width={521}
        height={339}
        bottomH={40}
        legendX={74}
        legendY={39}
      />
      <Panel
        frames={framesC}
        traces={tracesC}
        xMax={218}
        yMax={6}
        xTicks={ticksC}
        yTicks={yTicks6}
        events={eventsC}
        thrSpan={[1, 211]}
        left={354}
        top={417}
        width={656}
        height={382}
        bottomH={70}
        yLabel="Normalized Fluorescence Intensity"
        xLabel="Frame Number"
        legendX={76}
        legendY={43}
        oval
      />

      <div
        style={{
          position: 'absolute',
          left: 25,
          top: 828,
          fontFamily: SANS,
          fontSize: 18,
          letterSpacing: 0.07,
          lineHeight: '25px',
          color: '#333',
        }}
      >
        <div style={captionLine}>
          <b style={{ color: '#222' }}>FIGURE 8 |</b> Ca<sup style={{ fontSize: 12, lineHeight: 0 }}>2+</sup> peak intensity
          obtained for 3 stimulations of ATP, Glu and Ionomycin (Iono) for pure astrocyte cultures. The horizontal axis is the
          frame number
        </div>
        <div style={captionLine}>
          indicating time periods with total range of 4 s each (1 frame no. = 4 s); and the vertical axis shows the normalized
          values for fluorescence intensity corresponding to
        </div>
        <div style={captionLine}>
          calcium activity. The orange vertical lines show events (3) and the green horizontal line shows threshold (1.2).{' '}
          <b style={{ color: '#222' }}>(A)</b> Events: ATP 100 μM, Glu 100 μM, and Iono.
        </div>
        <div style={captionLine}>
          <b style={{ color: '#222' }}>(B)</b> Events: ATP 100 μM, Glu 5 mM, and Iono. <b style={{ color: '#222' }}>(C)</b>{' '}
          Events: Glu 5 mM, ATP 100 μM, and Ionomycin.
        </div>
      </div>
    </div>
  );
}
